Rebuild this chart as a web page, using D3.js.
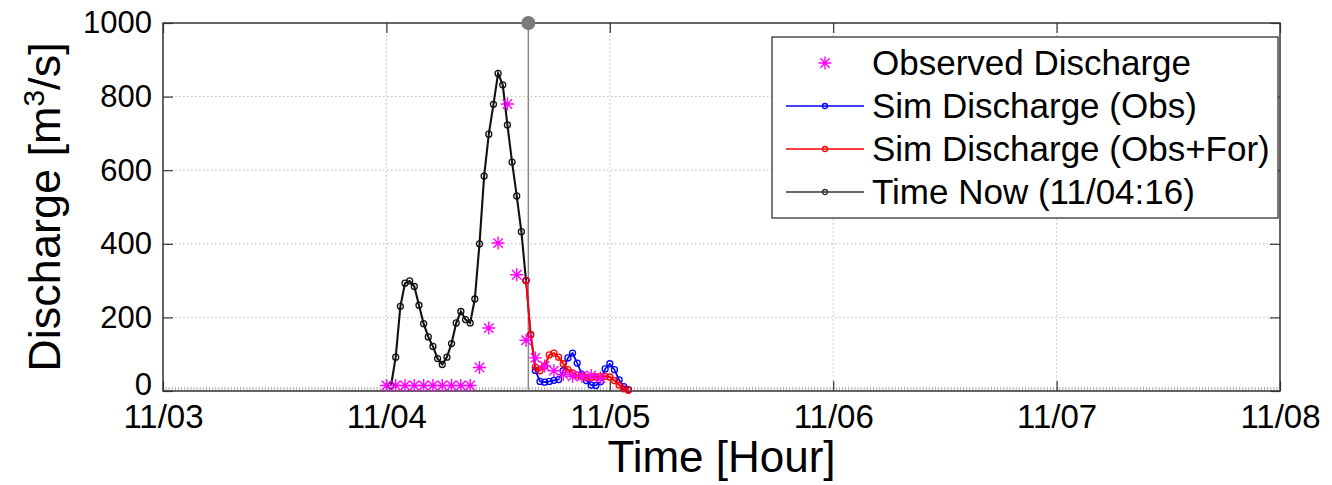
<!DOCTYPE html>
<html>
<head>
<meta charset="utf-8">
<script src="https://cdn.jsdelivr.net/npm/d3@7"></script>
<style>
  body { margin: 0; background: #fff; }
  svg { display: block; font-family: "Liberation Sans", Arial, sans-serif; }
</style>
</head>
<body>
<div id="chart"></div>
<script>
// Etiquetas de los días (eje x, horas desde 11/03 00:00)
const dayLabels = ["11/03", "11/04", "11/05", "11/06", "11/07", "11/08"];
const yTicks = [0, 200, 400, 600, 800, 1000];

// Caudal simulado hasta "ahora" (horas desde 11/04 00:00)
const simHours = [0.5, 1, 1.5, 2, 2.5, 3, 3.5, 4, 4.5, 5, 5.5, 6, 6.5, 7, 7.5,
    8, 8.5, 9, 9.5, 10, 10.5, 11, 11.5, 12, 12.5, 13, 13.5, 14, 14.5, 15];
const simNow = [15, 92, 230, 293, 299, 284, 233, 183, 147, 121, 88, 72, 92, 129, 185,
    216, 194, 185, 250, 400, 584, 698, 779, 863, 832, 723, 622, 530, 433, 300];

// Después de "ahora"
const forHours = [15, 15.5, 16, 16.5, 17, 17.5, 18, 18.5, 19, 19.5, 20, 20.5,
    21, 21.5, 22, 22.5, 23, 23.5, 24, 24.5, 25, 25.5, 26];
const simObs = [300, 153, 56, 26, 24, 26, 29, 31, 55, 90, 103, 76,
    45, 28, 16, 15, 25, 60, 74, 58, 30, 12, 4];
const simObsFor = [300, 153, 65, 55, 68, 98, 103, 92, 74, 58, 49, 43,
    40, 37, 37, 38, 40, 40, 38, 28, 16, 6, 2];

// Caudal observado
const obsHours = [0, 1, 2, 3, 4, 5, 6, 7, 8, 9, 10, 11, 12, 13, 14, 15, 16, 17, 18, 19, 20, 21, 22, 23];
const observed = [15, 15, 15, 15, 15, 15, 15, 15, 15, 15, 64, 171, 402, 780, 316, 138,
    90, 68, 55, 45, 40, 40, 42, 35];

const nowHour = 15.25;
const legendLabels = ["Observed Discharge", "Sim Discharge (Obs)", "Sim Discharge (Obs+For)", "Time Now (11/04:16)"];

const W = 1332, H = 485;
const pLeft = 163, pRight = 1280, pTop = 23, pBottom = 391;

const svg = d3.select("#chart").append("svg")
    .attr("width", W)
    .attr("height", H);

const x = d3.scaleLinear().domain([0, 120]).range([pLeft, pRight]);
const y = d3.scaleLinear().domain([0, 1000]).range([pBottom, pTop]);
const hx = h => x(h + 24); // horas desde 11/04

// Rejilla punteada
const dayTicks = dayLabels.map((d, i) => i * 24);
svg.append("g").selectAll("line")
    .data(dayTicks.slice(1, -1))
    .join("line")
    .attr("x1", d => x(d)).attr("x2", d => x(d))
    .attr("y1", pTop).attr("y2", pBottom)
    .attr("stroke", "#bdbdbd").attr("stroke-dasharray", "1.5,2.5");
svg.append("g").selectAll("line")
    .data(yTicks.slice(1, -1))
    .join("line")
    .attr("x1", pLeft).attr("x2", pRight)
    .attr("y1", d => y(d)).attr("y2", d => y(d))
    .attr("stroke", "#bdbdbd").attr("stroke-dasharray", "1.5,2.5");

// Marcas menores (cada 20 minutos) en el eje inferior
svg.append("g").selectAll("line")
    .data(d3.range(0, 120, 1 / 3))
    .join("line")
    .attr("x1", d => x(d)).attr("x2", d => x(d))
    .attr("y1", pBottom).attr("y2", pBottom - 4)
    .attr("stroke", "#999").attr("stroke-width", 0.8);

// Ejes con d3.axis
const fmtDay = (d, i) => dayLabels[i];
svg.append("g")
    .attr("transform", `translate(0,${pBottom})`)
    .call(d3.axisBottom(x).tickValues(dayTicks).tickFormat(fmtDay).tickSizeInner(-10).tickSizeOuter(0).tickPadding(14))
    .call(g => g.select(".domain").remove())
    .call(g => g.selectAll("line").attr("stroke", "#333").attr("stroke-width", 1.2))
    .call(g => g.selectAll("text").attr("font-size", 33).attr("fill", "#000").attr("font-family", "Liberation Sans, Arial, sans-serif"));
svg.append("g")
    .attr("transform", `translate(0,${pTop})`)
    .call(d3.axisTop(x).tickValues(dayTicks).tickFormat("").tickSizeInner(-10).tickSizeOuter(0))
    .call(g => g.select(".domain").remove())
    .call(g => g.selectAll("line").attr("stroke", "#333").attr("stroke-width", 1.2));
svg.append("g")
    .attr("transform", `translate(${pLeft},0)`)
    .call(d3.axisLeft(y).tickValues(yTicks).tickFormat(d3.format("d")).tickSizeInner(-10).tickSizeOuter(0).tickPadding(11))
    .call(g => g.select(".domain").remove())
    .call(g => g.selectAll("line").attr("stroke", "#333").attr("stroke-width", 1.2))
    .call(g => g.selectAll("text").attr("font-size", 31).attr("fill", "#000").attr("font-family", "Liberation Sans, Arial, sans-serif"))
    .call(g => g.selectAll("text").filter(d => d === 0).attr("dy", "0.1em"));
svg.append("g")
    .attr("transform", `translate(${pRight},0)`)
    .call(d3.axisRight(y).tickValues(yTicks).tickFormat("").tickSizeInner(-10).tickSizeOuter(0))
    .call(g => g.select(".domain").remove())
    .call(g => g.selectAll("line").attr("stroke", "#333").attr("stroke-width", 1.2));

// Marco
svg.append("rect")
    .attr("x", pLeft).attr("y", pTop)
    .attr("width", pRight - pLeft).attr("height", pBottom - pTop)
    .attr("fill", "none").attr("stroke", "#333").attr("stroke-width", 1.5);

// Línea de "ahora"
svg.append("line")
    .attr("x1", hx(nowHour)).attr("x2", hx(nowHour))
    .attr("y1", pTop).attr("y2", pBottom)
    .attr("stroke", "#8a8a8a").attr("stroke-width", 1.5);

const line = d3.line().x(d => hx(d[0])).y(d => y(d[1]));

function drawSeries(hours, values, color, sw) {
    const pts = hours.map((h, i) => [h, values[i]]);
    svg.append("path")
        .datum(pts)
        .attr("d", line)
        .attr("fill", "none")
        .attr("stroke", color)
        .attr("stroke-width", sw);
    svg.append("g").selectAll("circle")
        .data(pts)
        .join("circle")
        .attr("cx", d => hx(d[0]))
        .attr("cy", d => y(d[1]))
        .attr("r", 3)
        .attr("fill", "none")
        .attr("stroke", color)
        .attr("stroke-width", 1.3);
}

drawSeries(simHours, simNow, "#111", 2.1);
drawSeries(forHours, simObs, "#0000ff", 1.7);
drawSeries(forHours, simObsFor, "#ff0000", 2);

// Asterisco estilo MATLAB
const star = s => `M${-s},0L${s},0M0,${-s}L0,${s}M${-s * 0.72},${-s * 0.72}L${s * 0.72},${s * 0.72}M${-s * 0.72},${s * 0.72}L${s * 0.72},${-s * 0.72}`;
svg.append("g").selectAll("path")
    .data(obsHours.map((h, i) => [h, observed[i]]))
    .join("path")
    .attr("transform", d => `translate(${hx(d[0])},${y(d[1])})`)
    .attr("d", star(6.5))
    .attr("stroke", "#ff00ff")
    .attr("stroke-width", 1.4)
    .attr("fill", "none");

// Punto gris arriba de la línea de "ahora"
svg.append("circle")
    .attr("cx", hx(nowHour)).attr("cy", pTop)
    .attr("r", 7)
    .attr("fill", "#7a7a7a");

// Leyenda
const lg = svg.append("g");
lg.append("rect")
    .attr("x", 772).attr("y", 37)
    .attr("width", 506).attr("height", 181)
    .attr("fill", "#fff").attr("stroke", "#333").attr("stroke-width", 1.3);
const rowY = [63, 106, 149, 192];
const legColors = ["#ff00ff", "#0000ff", "#ff0000", "#333"];
legendLabels.forEach((lab, i) => {
    if (i === 0) {
        lg.append("path")
            .attr("transform", `translate(825,${rowY[i]})`)
            .attr("d", star(6.5))
            .attr("stroke", legColors[i]).attr("stroke-width", 1.4);
    } else {
        lg.append("line")
            .attr("x1", 786).attr("x2", 864)
            .attr("y1", rowY[i]).attr("y2", rowY[i])
            .attr("stroke", legColors[i]).attr("stroke-width", 1.5);
        lg.append("circle")
            .attr("cx", 825).attr("cy", rowY[i]).attr("r", 2.5)
            .attr("fill", "none").attr("stroke", legColors[i]).attr("stroke-width", 1.3);
    }
    lg.append("text")
        .attr("x", 872).attr("y", rowY[i] + 12)
        .attr("font-size", 35)
        .text(lab);
});

// Títulos de ejes
svg.append("text")
    .attr("x", (pLeft + pRight) / 2).attr("y", 472)
    .attr("text-anchor", "middle")
    .attr("font-size", 44)
    .text("Time [Hour]");

const yt = svg.append("text")
    .attr("transform", `translate(60,${(pTop + pBottom) / 2}) rotate(-90)`)
    .attr("text-anchor", "middle")
    .attr("font-size", 45);
yt.append("tspan").text("Discharge [m");
yt.append("tspan").attr("dy", -16).attr("font-size", 30).text("3");
yt.append("tspan").attr("dy", 16).text("/s]");
</script>
</body>
</html>
